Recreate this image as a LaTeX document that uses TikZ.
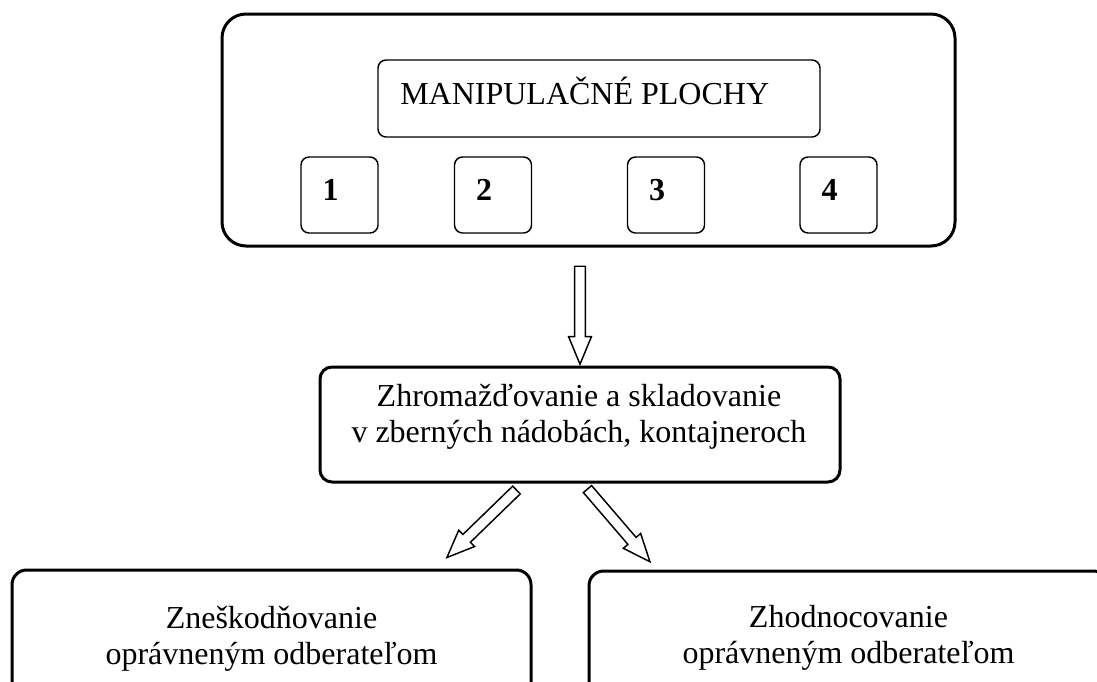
\documentclass[tikz,border=0pt]{standalone}
\usepackage{fontspec}
\setmainfont{Liberation Serif}
\usetikzlibrary{calc,positioning,shapes.arrows}

\tikzset{
  bigbox/.style={draw, line width=2.25pt, rounded corners=18pt, inner sep=0pt},
  thinbox/.style={draw, line width=1.1pt, rounded corners=6pt, inner sep=0pt},
  txt/.style={font=\fontsize{24pt}{27pt}\selectfont, inner sep=0pt, align=center},
  blockarrow/.style={single arrow, draw, line width=1.1pt, fill=white,
    inner xsep=0pt, inner ysep=3.5pt, single arrow head extend=4.5pt,
    single arrow tip angle=45, sloped, allow upside down, at start, anchor=tail},
}

\begin{document}
\begin{tikzpicture}[x=0.75pt, y=-0.75pt]

            \useasboundingbox (0,0) rectangle (1097,682);
            \clip (0,0) rectangle (1097,682);
            \fill[white] (0,0) rectangle (1097,682);

            % Manipulation areas
            \node[bigbox, minimum width=549.75pt, minimum height=174pt] (plochy) at (588.5,130) {};
            \node[thinbox, minimum width=331.5pt, minimum height=57.75pt] (nazov) at (599,98.5) {};
            \node[txt, anchor=base west] (nazovtext) at (400,104) {MANIPULAČNÉ PLOCHY};

            \foreach \i/\x in {1/339.5, 2/493, 3/666, 4/838.5} {
                \node[thinbox, minimum width=57.75pt, minimum height=57pt] (plocha\i) at (\x,195) {};
                \node[txt, font=\fontsize{24pt}{27pt}\selectfont\bfseries, anchor=base] (cislo\i) at (\x-9,200) {\i};
            }

            % Collection and storage
            \node[bigbox, rounded corners=9pt, minimum width=390pt, minimum height=86.25pt] (zber) at (580,424.5) {};
            \node[txt] (zbertext) at (579,417) {Zhromažďovanie a skladovanie\\v zberných nádobách, kontajneroch};

            % Disposal and recovery
            \node[bigbox, rounded corners=11pt, minimum width=389.25pt, minimum height=105pt] (zneskodnovanie) at (271.5,640) {};
            \node[txt] (zneskodnovanietext) at (271.5,639) {Zneškodňovanie\\oprávneným odberateľom};

            \node[bigbox, rounded corners=11pt, minimum width=389.25pt, minimum height=105pt] (zhodnocovanie) at (848.5,641) {};
            \node[txt] (zhodnocovanietext) at (848.5,638) {Zhodnocovanie\\oprávneným odberateľom};

            % Arrows
            \coordinate (s0) at ($(plochy.south -| zber.north)+(0,18)$);
            \coordinate (e0) at ($(zber.north)+(0,-5)$);
            \path (s0) -- (e0) node[blockarrow, minimum height=73.5pt] (sipka0) {};

            \coordinate (s1) at ($(zber.south)+(-63,6)$);
            \coordinate (e1) at ($(zneskodnovanie.north)+(177.5,-13)$);
            \path (s1) -- (e1) node[blockarrow, minimum height=72.7pt] (sipka1) {};

            \coordinate (s2) at ($(zber.south)+(7,5)$);
            \coordinate (e2) at ($(zhodnocovanie.north)+(-200.5,-10)$);
            \path (s2) -- (e2) node[blockarrow, minimum height=71.9pt] (sipka2) {};

\end{tikzpicture}
\end{document}
